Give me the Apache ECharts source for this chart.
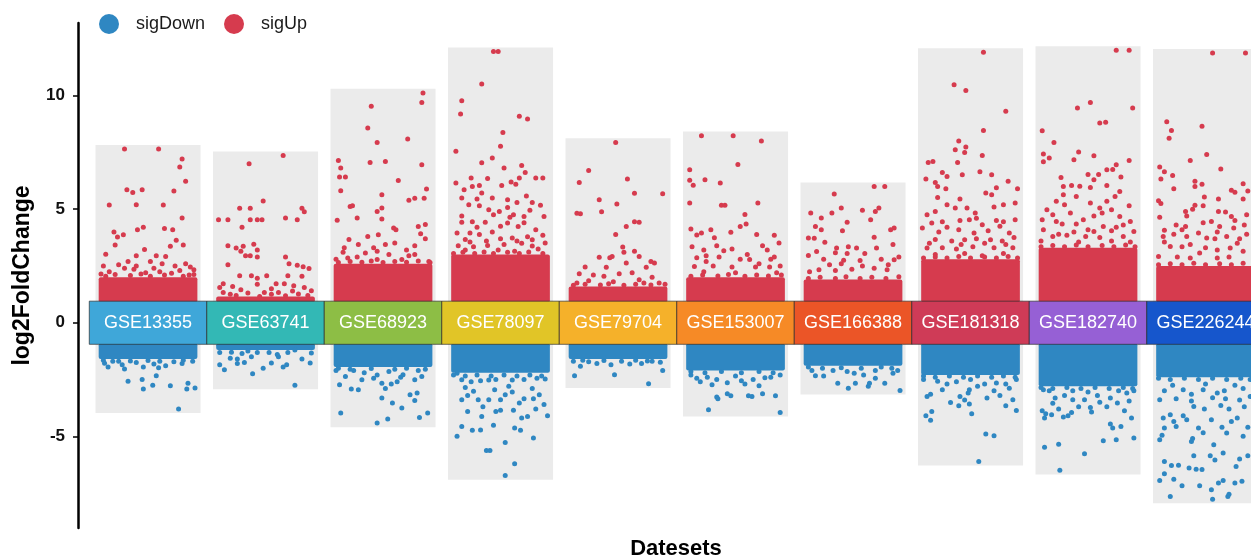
<!DOCTYPE html>
<html>
<head>
<meta charset="utf-8">
<style>
  html, body { margin: 0; padding: 0; background: #fff; }
  #chart { width: 1251px; height: 560px; }
</style>
<script src="https://cdn.jsdelivr.net/npm/echarts@6/dist/echarts.min.js"></script>
</head>
<body>
<div id="chart"></div>
<script>
const datasets = ['GSE13355', 'GSE63741', 'GSE68923', 'GSE78097', 'GSE79704',
  'GSE153007', 'GSE166388', 'GSE181318', 'GSE182740', 'GSE226244']
const boxColors = ['#3FA7D9', '#33B8B5', '#8DBE45', '#E1C527', '#F5B12A',
  '#F68A26', '#EB5527', '#CF3B57', '#9660D5', '#1656CC']

// where the cloud turns into a solid block (log2FC)
const denseUp = [2.0, 1.15, 2.6, 3.0, 1.6, 2.0, 1.9, 2.8, 3.3, 2.5]
const denseDown = [-1.6, -1.2, -1.95, -2.2, -1.6, -2.1, -1.9, -2.3, -2.8, -2.4]

// scattered genes above / below the block: [offset inside column, log2FC]
const up13355 = [[-0.20,7.65],[0.09,7.65],[0.29,7.21],[0.27,6.86],[0.32,6.23],[-0.18,5.86],[-0.13,5.74],[-0.05,5.86],[0.22,5.80],[-0.33,5.18],[-0.10,5.20],[0.13,5.18],[0.29,4.61],[-0.09,4.10],[-0.04,4.20],[0.14,4.15],[0.21,4.10],[-0.29,4.00],[-0.26,3.78],[-0.21,3.87],[0.24,3.63],[0.30,3.42],[-0.28,3.42],[-0.03,3.22],[0.19,3.37],[-0.36,3.02],[-0.10,2.95],[0.07,2.95],[0.15,2.92],[-0.17,2.70],[0.02,2.70],[0.39,2.33],[-0.38,2.50],[-0.25,2.55],[0.23,2.50],[-0.33,2.25],[-0.12,2.35],[0.05,2.40],[0.32,2.60],[-0.02,2.20],[0.10,2.25],[0.35,2.10],[-0.40,2.15],[0.27,2.30],[-0.20,2.40],
  [-0.36,2.05],[-0.28,2.12],[-0.15,2.08],[-0.06,2.15],[0.02,2.05],[0.14,2.10],[0.20,2.18],[0.30,2.05],[0.39,2.12],[-0.10,2.50],[0.12,2.60],[0.36,2.45]]
const down13355 = [[-0.34,-1.95],[-0.20,-2.04],[-0.04,-1.95],[0.09,-1.98],[0.15,-1.90],[0.29,-1.80],[-0.17,-2.58],[-0.05,-2.50],[0.07,-2.33],[0.04,-2.75],[0.19,-2.77],[-0.04,-2.92],[0.33,-2.92],[0.40,-2.87],[0.34,-2.66],[0.26,-3.80],[-0.37,-1.78],[-0.25,-1.70],[0.22,-1.72],[-0.10,-1.75],[0.38,-1.70],
  [-0.38,-1.65],[-0.30,-1.70],[-0.15,-1.68],[0.00,-1.66],[0.10,-1.70],[0.30,-1.65],[-0.22,-1.85],[0.05,-1.82]]

const up63741 = [[0.15,7.36],[-0.14,7.00],[-0.02,5.36],[-0.22,5.04],[-0.13,5.04],[0.31,5.04],[0.33,4.89],[-0.40,4.54],[-0.32,4.54],[-0.13,4.54],[-0.07,4.54],[-0.03,4.54],[0.17,4.61],[0.27,4.54],[-0.20,4.21],[-0.32,3.39],[-0.25,3.29],[-0.19,3.37],[-0.10,3.46],[-0.21,3.15],[-0.17,2.95],[-0.13,2.95],[-0.07,2.89],[-0.07,3.20],[0.17,2.89],[0.20,2.60],[0.27,2.53],[0.32,2.46],[0.37,2.39],[-0.32,2.55],[-0.22,2.07],[-0.12,2.07],[-0.07,1.96],[0.01,2.07],[0.19,2.07],[0.31,2.05],[0.09,1.72],[0.16,1.72],[0.24,1.63],[-0.36,1.72],[-0.07,1.70],[-0.21,1.45],[-0.15,1.31],[-0.36,1.33],[-0.01,1.33],[0.11,1.33],[0.28,1.27],[0.39,1.41],[-0.25,1.20],[0.17,1.19],[-0.39,1.55],[0.05,1.50],[0.33,1.55],[-0.28,1.60],[0.23,1.40],[-0.05,1.15],[0.36,1.20],[-0.30,1.25],[0.05,1.25]]
const down63741 = [[-0.39,-1.31],[-0.29,-1.30],[-0.15,-1.25],[-0.07,-1.31],[0.03,-1.31],[0.19,-1.31],[0.25,-1.20],[0.39,-1.33],[-0.30,-1.56],[-0.24,-1.60],[-0.12,-1.50],[0.11,-1.50],[0.31,-1.60],[-0.39,-1.85],[-0.35,-2.07],[-0.24,-1.80],[-0.18,-1.75],[-0.02,-2.00],[-0.11,-2.25],[0.05,-1.77],[0.15,-1.95],[0.18,-1.85],[0.38,-1.77],[0.25,-2.75],[-0.20,-1.35],[0.10,-1.40]]

const up68923 = [[0.34,10.12],[0.33,9.70],[-0.10,9.53],[-0.13,8.58],[-0.05,7.94],[0.21,8.09],[-0.38,7.14],[-0.36,6.81],[-0.37,6.42],[-0.32,6.42],[-0.11,7.06],[0.02,7.10],[0.33,6.96],[-0.36,5.81],[0.13,6.26],[0.37,5.89],[0.35,5.48],[-0.01,5.64],[0.22,5.39],[0.27,5.48],[-0.28,5.12],[-0.26,5.15],[-0.05,4.90],[-0.01,5.05],[-0.39,4.51],[-0.22,4.61],[-0.01,4.57],[0.09,4.17],[0.11,4.10],[0.30,4.24],[0.36,4.33],[-0.13,3.80],[-0.04,3.87],[0.32,3.92],[-0.29,3.66],[-0.21,3.44],[0.02,3.44],[0.27,3.39],[0.36,3.70],[-0.34,3.10],[-0.15,3.07],[-0.08,3.30],[0.10,3.51],[0.16,2.78],[0.27,3.00],[-0.05,2.78],[-0.22,2.90],[0.39,2.70],[-0.40,2.80],[0.05,3.00],[0.22,2.95],[-0.30,2.85],
  [-0.38,2.65],[-0.28,2.70],[-0.18,2.66],[-0.10,2.72],[0.00,2.65],[0.10,2.70],[0.20,2.66],[0.30,2.72],[0.40,2.65],[-0.33,3.30],[0.20,3.20],[-0.05,3.15]]
const down68923 = [[-0.37,-2.73],[-0.27,-2.92],[-0.21,-2.95],[-0.18,-2.51],[-0.08,-2.45],[-0.01,-2.66],[0.02,-2.90],[0.07,-2.70],[0.12,-2.60],[0.17,-2.29],[0.27,-2.51],[0.33,-2.37],[-0.32,-2.37],[-0.16,-2.20],[0.23,-3.17],[0.29,-3.10],[0.27,-3.42],[-0.01,-3.32],[0.08,-3.54],[0.16,-3.76],[-0.36,-3.98],[-0.05,-4.42],[0.04,-4.24],[0.31,-4.17],[0.38,-3.98],[-0.40,-2.10],[0.05,-2.15],[0.36,-2.05],[-0.25,-2.10],
  [-0.38,-2.00],[-0.28,-2.05],[-0.10,-2.02],[0.10,-2.05],[0.20,-2.00],[0.30,-2.10],[-0.05,-2.30],[0.15,-2.40]]

const up78097 = [[-0.06,11.94],[-0.02,11.94],[-0.16,10.51],[-0.33,9.78],[-0.34,9.19],[0.16,9.09],[0.23,8.97],[0.02,8.38],[0.00,7.77],[-0.38,7.55],[-0.16,7.04],[-0.07,7.26],[0.03,6.81],[0.18,6.92],[0.21,6.62],[0.16,6.37],[0.30,6.37],[0.36,6.37],[-0.25,6.37],[-0.11,6.35],[-0.38,6.15],[-0.31,5.86],[-0.24,6.00],[-0.18,6.04],[-0.16,5.71],[-0.07,5.49],[0.01,6.04],[0.09,6.20],[0.06,5.42],[0.13,6.10],[0.22,5.58],[0.27,5.30],[0.34,5.17],[-0.33,5.49],[-0.20,5.45],[-0.18,5.15],[-0.10,4.98],[-0.06,4.76],[-0.01,4.90],[0.06,5.08],[0.11,4.76],[0.20,4.68],[0.37,4.68],[-0.33,4.42],[-0.24,4.45],[-0.13,4.42],[0.06,4.39],[0.15,4.24],[0.30,4.10],[-0.37,3.95],[-0.26,3.95],[-0.18,3.89],[-0.07,4.00],[0.23,3.79],[0.36,3.85],[-0.30,3.66],[0.10,3.73],[0.38,3.51],[-0.36,3.39],[-0.23,3.35],[0.03,3.45],[0.18,3.50],[-0.11,3.40],[0.27,3.38],[-0.02,3.20],[0.12,3.15],[-0.30,3.20],[0.32,3.25],
  [-0.40,3.05],[-0.32,3.10],[-0.22,3.05],[-0.14,3.12],[-0.06,3.05],[0.06,3.10],[0.16,3.05],[0.24,3.12],[0.36,3.05],[-0.26,3.55],[-0.12,3.60],[0.00,3.70],[0.14,3.60],[0.27,3.65],[-0.20,4.20],[0.00,4.25],[0.20,4.40],[-0.33,4.70],[0.08,4.65],[0.25,4.95],[-0.27,5.20],[0.14,5.30]]
const down78097 = [[-0.37,-2.22],[-0.33,-2.51],[-0.25,-2.60],[-0.17,-2.55],[-0.10,-2.52],[-0.04,-2.50],[0.10,-2.52],[0.20,-2.50],[0.31,-2.45],[0.38,-2.48],[-0.23,-3.02],[-0.33,-3.39],[-0.19,-3.39],[-0.10,-3.39],[0.00,-3.39],[0.04,-3.17],[0.16,-3.54],[0.20,-3.35],[0.33,-3.17],[0.37,-3.60],[-0.28,-3.91],[-0.04,-3.91],[0.00,-3.85],[0.11,-3.85],[0.23,-4.13],[0.40,-4.10],[-0.16,-4.13],[-0.33,-4.57],[-0.24,-4.74],[-0.17,-4.72],[-0.06,-4.52],[0.12,-4.64],[0.17,-4.74],[0.28,-5.08],[-0.37,-5.00],[0.04,-5.27],[-0.12,-5.63],[-0.09,-5.63],[0.12,-6.21],[0.04,-6.73],[-0.30,-2.85],[0.07,-2.80],[0.27,-2.90],[-0.05,-2.95],
  [-0.40,-2.30],[-0.30,-2.35],[-0.20,-2.30],[-0.08,-2.35],[0.03,-2.30],[0.14,-2.35],[0.25,-2.30],[0.35,-2.35],[-0.28,-3.20],[0.10,-3.05],[0.28,-3.35],[-0.15,-3.70],[0.30,-3.80],[0.18,-4.20]]

const up79704 = [[-0.02,7.94],[-0.25,6.70],[-0.33,6.18],[0.08,6.33],[0.38,5.68],[0.14,5.70],[-0.16,5.42],[-0.01,5.23],[-0.14,4.89],[-0.35,4.82],[-0.32,4.80],[0.14,4.45],[0.18,4.43],[0.07,4.24],[-0.02,3.89],[0.04,3.33],[0.05,3.10],[0.14,3.15],[0.18,2.92],[-0.16,2.88],[-0.07,2.86],[-0.05,2.92],[0.31,2.63],[0.28,2.70],[-0.28,2.45],[-0.10,2.44],[0.07,2.63],[0.24,2.44],[-0.33,2.16],[-0.21,2.10],[0.01,2.16],[0.12,2.20],[0.18,1.89],[0.29,2.00],[-0.12,2.05],[-0.35,1.75],[-0.04,1.80],[0.35,1.75],[-0.25,1.85],[0.22,1.75],
  [-0.38,1.65],[-0.28,1.70],[-0.15,1.66],[-0.08,1.72],[0.05,1.65],[0.15,1.70],[0.28,1.66],[0.40,1.70]]
const down79704 = [[-0.37,-2.33],[-0.03,-2.29],[0.26,-2.69],[0.38,-2.10],[-0.32,-1.92],[-0.18,-1.80],[-0.06,-1.85],[0.10,-1.82],[0.20,-1.80],[0.29,-1.70],[0.36,-1.74],[-0.38,-1.70],[-0.25,-1.72],[0.03,-1.70],[-0.30,-1.65],[-0.12,-1.66],[0.15,-1.65],[0.25,-1.68]]

const up153007 = [[-0.29,8.24],[-0.02,8.24],[0.22,8.00],[0.02,6.97],[-0.39,6.74],[-0.39,6.27],[-0.26,6.30],[-0.36,6.05],[-0.13,6.15],[-0.39,5.27],[-0.12,5.17],[-0.09,5.17],[0.19,5.27],[0.08,4.77],[0.04,4.24],[0.09,4.35],[-0.38,4.13],[-0.21,4.10],[-0.04,3.98],[0.18,3.89],[-0.33,3.86],[-0.29,3.95],[0.33,3.85],[0.37,3.51],[-0.18,3.74],[-0.16,3.39],[-0.37,3.35],[-0.27,3.20],[-0.25,2.95],[-0.10,3.17],[-0.03,3.25],[0.23,3.39],[0.27,3.20],[0.33,2.89],[-0.33,2.86],[-0.14,2.90],[0.04,2.80],[0.12,2.78],[0.20,2.60],[0.38,2.50],[-0.35,2.48],[-0.19,2.50],[-0.03,2.45],[0.17,2.45],[0.29,2.45],[0.00,2.20],[-0.27,2.25],[0.35,2.20],
  [-0.38,2.05],[-0.28,2.10],[-0.15,2.06],[-0.06,2.12],[0.08,2.05],[0.18,2.10],[0.28,2.06],[0.39,2.10],[-0.25,2.70],[0.30,2.80],[0.10,3.00]]
const down153007 = [[-0.23,-3.83],[0.38,-3.95],[-0.16,-3.27],[-0.15,-3.35],[-0.07,-3.13],[-0.04,-3.22],[0.11,-3.22],[0.14,-3.25],[0.23,-3.13],[0.34,-3.22],[-0.20,-2.73],[-0.33,-2.44],[-0.24,-2.40],[-0.16,-2.50],[-0.07,-2.64],[0.00,-2.35],[0.20,-2.78],[0.30,-2.40],[0.25,-2.42],[0.15,-2.50],[0.05,-2.55],[-0.38,-2.30],[0.38,-2.30],
  [-0.38,-2.15],[-0.26,-2.20],[-0.12,-2.15],[0.05,-2.20],[0.20,-2.15],[0.32,-2.20],[0.08,-2.70],[-0.30,-2.60]]

const up166388 = [[0.18,6.00],[0.27,6.00],[-0.16,5.67],[-0.36,4.83],[-0.18,4.83],[-0.10,5.05],[0.08,4.95],[0.19,4.90],[0.22,5.05],[-0.27,4.61],[0.15,4.54],[-0.05,4.42],[-0.32,4.24],[-0.27,4.10],[0.32,4.10],[0.35,4.17],[-0.09,4.05],[-0.38,3.73],[-0.33,3.72],[0.18,3.76],[-0.24,3.54],[0.34,3.44],[-0.14,3.29],[-0.04,3.35],[0.03,3.29],[0.20,3.29],[-0.31,3.14],[-0.15,3.08],[-0.05,3.05],[0.10,3.05],[0.39,2.89],[0.35,2.77],[-0.38,2.96],[-0.25,2.80],[-0.08,2.75],[0.06,2.74],[0.24,2.80],[-0.29,2.33],[-0.15,2.30],[-0.01,2.35],[0.18,2.40],[0.29,2.33],[-0.37,2.25],[0.08,2.50],[-0.20,2.55],
  [-0.38,1.95],[-0.28,2.00],[-0.15,1.95],[-0.06,2.02],[0.06,1.95],[0.16,2.00],[0.28,1.95],[0.39,2.02],[-0.10,2.60],[0.30,2.55]]
const down166388 = [[-0.32,-2.33],[-0.25,-2.35],[-0.13,-2.66],[-0.04,-2.88],[0.02,-2.66],[0.13,-2.80],[0.14,-2.66],[0.19,-2.44],[0.27,-2.66],[0.40,-2.98],[0.34,-2.22],[0.38,-2.10],[0.01,-2.22],[0.09,-2.30],[-0.05,-2.15],[-0.17,-2.10],[-0.35,-2.10],[0.19,-2.10],
  [-0.38,-1.95],[-0.26,-2.00],[-0.10,-1.98],[0.07,-2.00],[0.24,-1.95],[0.33,-2.00]]

const up181318 = [[0.11,11.91],[-0.14,10.48],[-0.04,10.23],[0.30,9.31],[0.11,8.47],[-0.10,8.00],[-0.13,7.62],[-0.04,7.74],[-0.05,7.50],[0.10,7.37],[-0.36,7.06],[-0.32,7.10],[-0.11,7.06],[0.08,6.65],[0.18,6.52],[-0.07,6.52],[-0.24,6.62],[-0.20,6.44],[-0.38,6.33],[0.32,6.23],[0.40,5.90],[-0.30,6.18],[-0.28,6.00],[-0.21,5.90],[0.22,5.94],[0.13,5.71],[0.18,5.64],[-0.28,5.52],[-0.09,5.45],[-0.20,5.20],[-0.13,5.05],[-0.03,5.05],[0.04,4.83],[0.28,5.20],[0.38,5.27],[-0.37,4.76],[-0.33,4.39],[-0.24,4.45],[-0.09,4.50],[-0.01,4.54],[0.10,4.32],[0.22,4.50],[0.28,4.45],[0.38,4.54],[-0.41,4.17],[-0.27,4.00],[-0.10,4.10],[0.03,3.95],[0.15,4.05],[0.33,3.95],[-0.30,3.66],[-0.16,3.60],[-0.05,3.65],[0.05,3.70],[0.17,3.65],[0.27,3.60],[0.37,3.75],[-0.37,3.29],[-0.24,3.30],[-0.12,3.25],[0.02,3.35],[0.20,3.30],[0.36,3.30],[-0.30,3.00],[-0.05,3.05],[0.10,2.95],[0.28,3.05],
  [-0.40,2.85],[-0.30,2.90],[-0.20,2.85],[-0.10,2.92],[0.00,2.85],[0.12,2.90],[0.22,2.85],[0.32,2.92],[0.40,2.85],[-0.35,3.50],[-0.08,3.45],[0.12,3.50],[0.30,3.45],[-0.20,4.20],[0.25,4.25],[0.05,4.60],[-0.30,4.90],[0.20,5.10]]
const down181318 = [[0.07,-6.11],[0.13,-4.90],[0.20,-4.98],[-0.38,-4.10],[-0.34,-4.30],[-0.33,-3.91],[-0.17,-3.51],[-0.10,-3.66],[0.01,-4.01],[-0.01,-3.58],[0.14,-3.32],[0.30,-3.66],[0.36,-3.39],[0.39,-3.86],[-0.37,-3.25],[-0.34,-3.15],[-0.09,-3.25],[-0.02,-3.10],[-0.01,-2.95],[0.33,-2.88],[0.30,-2.70],[0.22,-2.65],[-0.28,-2.58],[-0.20,-2.70],[-0.12,-2.60],[0.06,-2.80],[0.12,-2.70],[-0.40,-2.50],[0.39,-2.50],[0.00,-2.50],
  [-0.40,-2.35],[-0.30,-2.40],[-0.18,-2.35],[-0.06,-2.40],[0.06,-2.35],[0.18,-2.40],[0.28,-2.35],[0.38,-2.40],[-0.24,-2.95],[0.20,-3.00],[-0.05,-3.40],[0.25,-3.20]]

const up182740 = [[0.24,12.00],[0.35,12.00],[0.02,9.70],[-0.09,9.46],[0.38,9.46],[0.10,8.80],[0.15,8.83],[-0.39,8.46],[-0.29,7.94],[-0.38,7.43],[-0.38,7.09],[-0.33,7.26],[-0.08,7.52],[-0.12,7.18],[0.05,7.35],[0.35,7.15],[0.24,6.96],[0.16,6.74],[0.21,6.75],[0.09,6.53],[0.00,6.53],[-0.23,6.40],[0.28,6.42],[0.05,6.30],[0.16,6.04],[-0.14,6.04],[-0.21,6.00],[-0.07,6.01],[0.02,5.96],[0.27,5.78],[0.23,5.56],[-0.21,5.64],[-0.10,5.56],[-0.27,5.35],[0.02,5.27],[0.16,5.35],[0.35,5.15],[-0.35,4.98],[-0.15,4.83],[0.12,4.83],[0.20,4.98],[0.27,4.68],[-0.39,4.54],[-0.27,4.46],[-0.04,4.54],[0.36,4.46],[-0.22,4.35],[0.13,4.24],[0.24,4.20],[-0.38,4.10],[-0.12,4.00],[0.05,4.02],[0.39,4.02],[-0.30,3.80],[-0.18,3.85],[-0.02,3.80],[0.10,3.75],[0.30,3.80],[-0.40,3.60],[0.20,3.60],[-0.08,3.55],[0.36,3.55],
  [-0.40,3.35],[-0.30,3.40],[-0.20,3.35],[-0.10,3.42],[0.00,3.35],[0.12,3.40],[0.22,3.35],[0.32,3.42],[0.40,3.35],[-0.25,3.90],[0.00,4.10],[0.20,4.05],[-0.10,4.35],[0.30,4.30],[-0.30,4.75],[0.05,4.70],[0.10,5.05],[-0.20,5.20]]
const down182740 = [[-0.24,-6.50],[-0.03,-5.77],[-0.37,-5.48],[-0.25,-5.35],[0.13,-5.20],[0.24,-5.15],[0.39,-5.08],[0.19,-4.46],[0.21,-4.64],[0.28,-4.57],[0.31,-3.88],[0.37,-4.20],[-0.39,-3.88],[-0.36,-4.01],[-0.37,-4.20],[-0.31,-4.05],[-0.25,-3.80],[-0.21,-4.15],[-0.17,-4.10],[-0.14,-3.95],[0.02,-3.73],[0.03,-3.93],[0.16,-3.70],[0.25,-3.54],[-0.38,-2.95],[-0.28,-3.32],[-0.20,-3.20],[-0.13,-3.39],[-0.03,-3.39],[0.08,-3.20],[0.19,-3.32],[0.33,-3.10],[0.39,-3.00],[-0.33,-3.00],[-0.13,-3.00],[0.26,-3.00],[0.00,-3.05],
  [-0.40,-2.85],[-0.30,-2.90],[-0.18,-2.85],[-0.06,-2.90],[0.06,-2.85],[0.18,-2.90],[0.30,-2.85],[0.38,-2.90],[-0.30,-3.55],[0.10,-3.50],[0.35,-3.45],[-0.08,-3.70]]

const up226244 = [[0.06,11.88],[0.34,11.88],[-0.33,8.85],[-0.29,8.47],[-0.31,8.12],[-0.03,8.65],[0.01,7.41],[-0.13,7.15],[-0.39,6.86],[-0.38,6.33],[-0.35,6.65],[-0.28,6.48],[0.13,6.77],[-0.27,5.90],[-0.09,6.23],[-0.03,6.10],[-0.09,6.00],[0.22,5.83],[0.25,5.75],[0.32,6.12],[0.36,5.80],[-0.40,5.37],[-0.38,5.25],[-0.01,5.54],[0.11,5.45],[-0.09,5.17],[-0.02,5.15],[-0.39,4.64],[-0.17,4.90],[-0.16,4.70],[-0.11,5.00],[0.11,4.90],[0.17,4.88],[0.32,5.45],[0.22,4.68],[0.25,4.50],[0.35,4.75],[-0.25,4.30],[-0.17,4.24],[-0.02,4.40],[0.05,4.46],[0.12,4.24],[0.24,4.17],[-0.35,4.07],[-0.36,3.80],[-0.27,3.90],[-0.16,3.80],[-0.06,3.95],[0.01,3.73],[0.08,3.70],[0.18,3.80],[0.29,3.70],[0.35,3.90],[-0.40,2.92],[-0.30,3.36],[-0.20,3.35],[-0.13,3.45],[-0.05,3.07],[0.10,3.20],[0.21,3.29],[0.32,3.15],[-0.24,2.90],[-0.13,2.85],[0.10,2.85],[0.20,2.90],
  [-0.40,2.55],[-0.30,2.60],[-0.20,2.55],[-0.10,2.62],[0.00,2.55],[0.12,2.60],[0.22,2.55],[0.32,2.62],[0.40,2.55],[-0.35,3.55],[0.00,3.30],[0.27,3.50],[-0.20,4.10],[0.10,4.00],[0.33,4.30]]
const down226244 = [[-0.30,-7.65],[0.06,-7.77],[0.19,-7.65],[0.20,-7.55],[-0.39,-6.95],[-0.35,-6.65],[-0.27,-6.89],[-0.20,-7.18],[-0.05,-7.18],[0.05,-7.36],[0.11,-7.06],[0.15,-6.95],[0.25,-7.06],[0.31,-6.98],[-0.35,-6.11],[-0.29,-6.29],[-0.23,-6.28],[-0.14,-6.40],[-0.08,-6.45],[-0.03,-6.46],[-0.10,-5.86],[0.04,-5.86],[0.08,-6.04],[0.15,-5.74],[0.26,-6.33],[0.29,-6.00],[0.36,-5.86],[-0.12,-5.23],[-0.11,-5.10],[0.07,-5.37],[0.18,-4.86],[0.32,-5.00],[-0.39,-5.15],[-0.35,-4.64],[-0.37,-4.95],[-0.25,-4.57],[-0.16,-4.27],[-0.06,-4.64],[-0.02,-4.85],[0.05,-4.27],[0.14,-4.60],[0.22,-4.35],[0.27,-4.20],[0.36,-4.60],[-0.36,-4.20],[-0.30,-4.05],[-0.27,-4.35],[-0.19,-4.10],[-0.10,-3.69],[-0.01,-3.80],[0.13,-3.65],[0.20,-3.80],[0.33,-3.70],[-0.39,-3.39],[-0.25,-3.35],[-0.12,-3.45],[0.06,-3.30],[0.17,-3.35],[0.29,-3.40],[0.38,-3.25],[-0.35,-3.00],[-0.19,-2.95],[-0.02,-2.95],[0.16,-3.00],[0.32,-2.90],[0.39,-2.85],
  [-0.40,-2.45],[-0.30,-2.50],[-0.18,-2.45],[-0.06,-2.50],[0.06,-2.45],[0.18,-2.50],[0.30,-2.45],[0.38,-2.50],[-0.28,-2.75],[0.00,-2.70],[0.25,-2.75],[-0.12,-3.15],[0.10,-3.10]]

const upSets = [up13355, up63741, up68923, up78097, up79704, up153007, up166388, up181318, up182740, up226244]
const downSets = [down13355, down63741, down68923, down78097, down79704, down153007, down166388, down181318, down182740, down226244]

const upColor = '#D63B4E'
const downColor = '#2F87C2'
const font = '"Liberation Sans", Arial, Helvetica, sans-serif'

// column i sits at x = i + 1
const upData = []
const downData = []
upSets.forEach((pts, i) => pts.forEach(p => upData.push([i + 1 + p[0], p[1]])))
downSets.forEach((pts, i) => pts.forEach(p => downData.push([i + 1 + p[0], p[1]])))

// grey panel behind each column spans that column's range
const bgData = datasets.map((d, i) => [
  i + 1,
  Math.min(...downSets[i].map(p => p[1])) - 0.18,
  Math.max(...upSets[i].map(p => p[1])) + 0.18
])
const denseData = []
datasets.forEach((d, i) => {
  denseData.push([i + 1, 0.9, denseUp[i], 1])
  denseData.push([i + 1, -0.9, denseDown[i], 0])
})
const boxData = datasets.map((d, i) => [i + 1, i])

const chart = echarts.init(document.getElementById('chart'))

const option = {
  animation: false,
  grid: { left: 78, right: 0, top: 23, bottom: 32, outerBoundsMode: 'none' },
  legend: {
    data: ['sigDown', 'sigUp'],
    left: 99,
    top: 14,
    padding: 0,
    icon: 'circle',
    itemWidth: 20,
    itemHeight: 20,
    itemGap: 19,
    textStyle: { fontSize: 18, color: '#1a1a1a', fontFamily: font, padding: [0, 0, 0, 12] }
  },
  xAxis: {
    type: 'value',
    min: 0.404,
    max: 10.387,
    axisLine: { show: false },
    axisTick: { show: false },
    axisLabel: { show: false },
    splitLine: { show: false },
    name: 'Datesets',
    nameLocation: 'middle',
    nameGap: 10,
    nameTextStyle: { fontSize: 22, fontWeight: 'bold', color: '#000', fontFamily: font, padding: [0, 0, 0, 23] }
  },
  yAxis: {
    type: 'value',
    min: -9.04,
    max: 13.2,
    axisLine: { show: true, lineStyle: { color: '#000', width: 2.5 } },
    axisTick: { show: true, length: 5, customValues: [-5, 0, 5, 10], lineStyle: { color: '#000', width: 1.5 } },
    axisLabel: { customValues: [-5, 0, 5, 10], margin: 13, fontSize: 17, fontWeight: 'bold', color: '#111', fontFamily: font },
    splitLine: { show: false },
    name: 'log2FoldChange',
    nameLocation: 'middle',
    nameGap: 44,
    nameTextStyle: { fontSize: 23, fontWeight: 'bold', color: '#000', fontFamily: font }
  },
  series: [
    {
      type: 'custom',
      z: 1,
      silent: true,
      data: bgData,
      renderItem: (params, api) => {
        const x = api.value(0)
        const a = api.coord([x - 0.447, api.value(2)])
        const b = api.coord([x + 0.447, api.value(1)])
        return {
          type: 'rect',
          shape: { x: a[0], y: a[1], width: b[0] - a[0], height: b[1] - a[1] },
          style: { fill: '#EBEBEB' }
        }
      }
    },
    {
      type: 'custom',
      z: 2,
      silent: true,
      data: denseData,
      renderItem: (params, api) => {
        const x = api.value(0)
        const a = api.coord([x - 0.42, Math.max(api.value(1), api.value(2))])
        const b = api.coord([x + 0.42, Math.min(api.value(1), api.value(2))])
        return {
          type: 'rect',
          shape: { x: a[0], y: a[1], width: b[0] - a[0], height: b[1] - a[1], r: 2 },
          style: { fill: api.value(3) ? upColor : downColor }
        }
      }
    },
    {
      name: 'sigDown',
      type: 'scatter',
      z: 3,
      silent: true,
      symbolSize: 5,
      itemStyle: { color: downColor, opacity: 1 },
      data: downData
    },
    {
      name: 'sigUp',
      type: 'scatter',
      z: 3,
      silent: true,
      symbolSize: 5,
      itemStyle: { color: upColor, opacity: 1 },
      data: upData
    },
    {
      type: 'custom',
      z: 4,
      silent: true,
      data: boxData,
      renderItem: (params, api) => {
        const x = api.value(0)
        const idx = api.value(1)
        const a = api.coord([x - 0.5, 0.95])
        const b = api.coord([x + 0.5, -0.95])
        return {
          type: 'group',
          children: [
            {
              type: 'rect',
              shape: { x: a[0], y: a[1], width: b[0] - a[0], height: b[1] - a[1] },
              style: { fill: boxColors[idx], stroke: 'rgba(40,40,40,0.85)', lineWidth: 0.8 }
            },
            {
              type: 'text',
              style: {
                text: datasets[idx],
                x: (a[0] + b[0]) / 2,
                y: (a[1] + b[1]) / 2,
                fill: '#fff',
                font: '18px ' + font,
                align: 'center',
                verticalAlign: 'middle'
              }
            }
          ]
        }
      }
    }
  ]
}

chart.setOption(option)
window.addEventListener('resize', () => chart.resize())
</script>
</body>
</html>
